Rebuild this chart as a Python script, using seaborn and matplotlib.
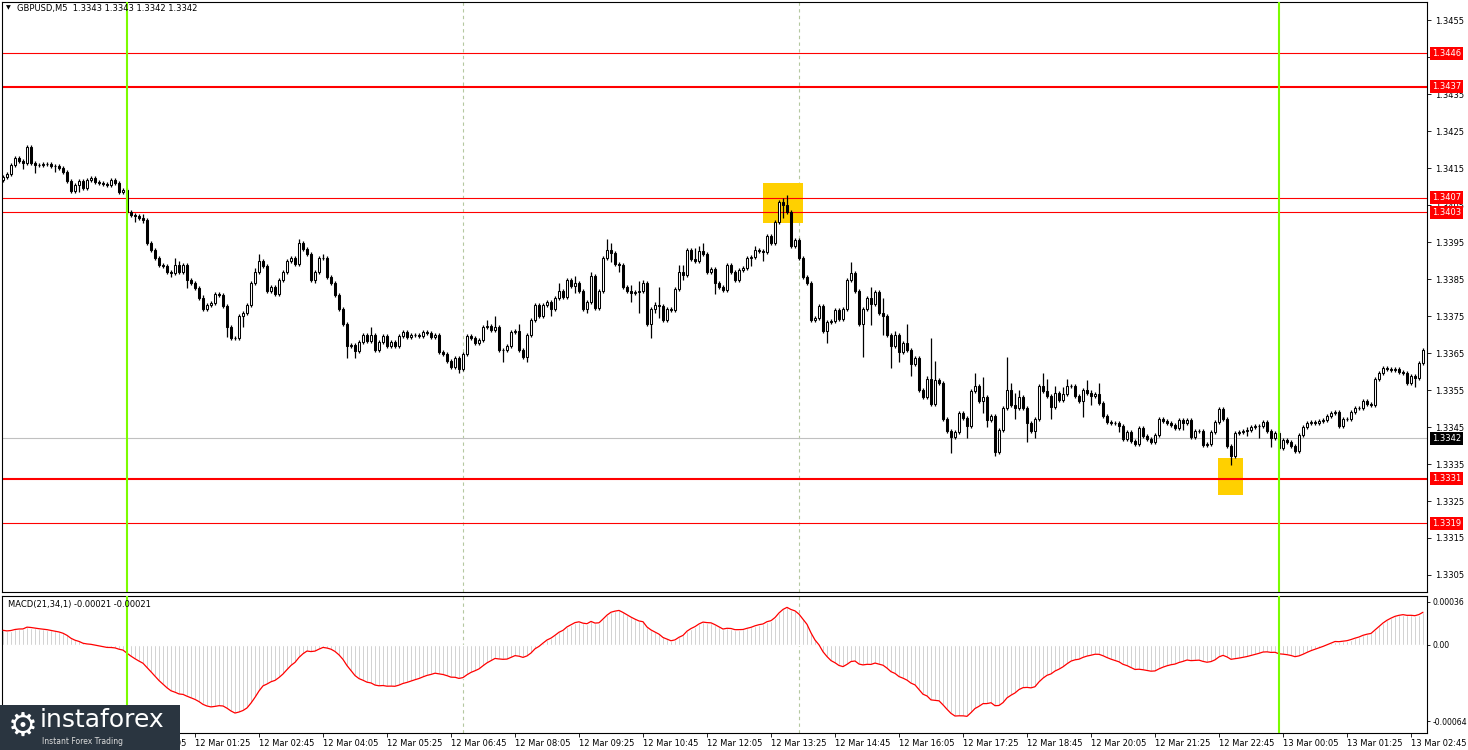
import numpy as np
import pandas as pd
import seaborn as sns
import matplotlib.pyplot as plt
import matplotlib.transforms as mtransforms
from matplotlib.patches import Rectangle

# GBPUSD M5, 11 Mar 21:25 -> 13 Mar 03:00
first_open = 1.34118
closes = [
    1.34126, 1.34134, 1.34158, 1.34177, 1.34169, 1.34163, 1.34207, 1.34163, 1.34158, 1.34158,
    1.34161, 1.34161, 1.34155, 1.34155, 1.34150, 1.34139, 1.34115, 1.34088, 1.34104, 1.34115,
    1.34096, 1.34118, 1.34123, 1.34112, 1.34109, 1.34107, 1.34104, 1.34118, 1.34109, 1.34085,
    1.34090, 1.34031, 1.34023, 1.34020, 1.34015, 1.34009, 1.33947, 1.33928, 1.33907, 1.33888,
    1.33885, 1.33869, 1.33866, 1.33888, 1.33869, 1.33888, 1.33847, 1.33839, 1.33826, 1.33799,
    1.33769, 1.33780, 1.33785, 1.33809, 1.33807, 1.33777, 1.33720, 1.33690, 1.33690, 1.33750,
    1.33758, 1.33780, 1.33839, 1.33869, 1.33899, 1.33885, 1.33817, 1.33828, 1.33809, 1.33847,
    1.33869, 1.33899, 1.33907, 1.33890, 1.33947, 1.33931, 1.33918, 1.33847, 1.33869, 1.33907,
    1.33907, 1.33855, 1.33839, 1.33807, 1.33769, 1.33728, 1.33669, 1.33672, 1.33655, 1.33680,
    1.33699, 1.33682, 1.33699, 1.33658, 1.33680, 1.33696, 1.33669, 1.33680, 1.33669, 1.33696,
    1.33707, 1.33693, 1.33699, 1.33699, 1.33696, 1.33707, 1.33704, 1.33693, 1.33699, 1.33653,
    1.33647, 1.33628, 1.33612, 1.33636, 1.33607, 1.33647, 1.33696, 1.33690, 1.33677, 1.33685,
    1.33720, 1.33723, 1.33712, 1.33720, 1.33658, 1.33658, 1.33669, 1.33707, 1.33709, 1.33658,
    1.33639, 1.33699, 1.33739, 1.33780, 1.33750, 1.33780, 1.33788, 1.33769, 1.33799, 1.33817,
    1.33801, 1.33847, 1.33831, 1.33839, 1.33817, 1.33769, 1.33788, 1.33858, 1.33772, 1.33817,
    1.33907, 1.33928, 1.33920, 1.33890, 1.33888, 1.33828, 1.33817, 1.33812, 1.33815, 1.33817,
    1.33839, 1.33728, 1.33769, 1.33780, 1.33777, 1.33739, 1.33769, 1.33766, 1.33823, 1.33869,
    1.33861, 1.33928, 1.33904, 1.33899, 1.33926, 1.33918, 1.33869, 1.33877, 1.33839, 1.33828,
    1.33820, 1.33888, 1.33869, 1.33847, 1.33874, 1.33880, 1.33907, 1.33909, 1.33928, 1.33926,
    1.33923, 1.33966, 1.33947, 1.34004, 1.34058, 1.34050, 1.34031, 1.33939, 1.33955, 1.33907,
    1.33855, 1.33839, 1.33739, 1.33744, 1.33777, 1.33709, 1.33734, 1.33736, 1.33766, 1.33742,
    1.33769, 1.33847, 1.33866, 1.33817, 1.33728, 1.33769, 1.33799, 1.33782, 1.33815, 1.33758,
    1.33750, 1.33699, 1.33669, 1.33699, 1.33653, 1.33677, 1.33658, 1.33620, 1.33636, 1.33550,
    1.33531, 1.33580, 1.33512, 1.33577, 1.33569, 1.33471, 1.33439, 1.33423, 1.33436, 1.33488,
    1.33474, 1.33453, 1.33547, 1.33561, 1.33520, 1.33531, 1.33469, 1.33480, 1.33382, 1.33442,
    1.33501, 1.33550, 1.33509, 1.33501, 1.33531, 1.33501, 1.33461, 1.33439, 1.33471, 1.33561,
    1.33547, 1.33534, 1.33504, 1.33542, 1.33523, 1.33539, 1.33561, 1.33561, 1.33534, 1.33520,
    1.33550, 1.33542, 1.33534, 1.33539, 1.33515, 1.33480, 1.33463, 1.33461, 1.33461, 1.33453,
    1.33417, 1.33436, 1.33412, 1.33404, 1.33447, 1.33426, 1.33417, 1.33409, 1.33428, 1.33471,
    1.33466, 1.33461, 1.33455, 1.33447, 1.33469, 1.33461, 1.33469, 1.33423, 1.33439, 1.33439,
    1.33401, 1.33404, 1.33436, 1.33463, 1.33498, 1.33471, 1.33398, 1.33371, 1.33434, 1.33436,
    1.33439, 1.33442, 1.33450, 1.33453, 1.33453, 1.33463, 1.33439, 1.33420, 1.33434, 1.33393,
    1.33415, 1.33409, 1.33398, 1.33385, 1.33428, 1.33450, 1.33461, 1.33463, 1.33461, 1.33466,
    1.33469, 1.33480, 1.33488, 1.33490, 1.33453, 1.33471, 1.33471, 1.33490, 1.33501, 1.33501,
    1.33520, 1.33512, 1.33509, 1.33580, 1.33596, 1.33609, 1.33607, 1.33604, 1.33607, 1.33598,
    1.33596, 1.33569, 1.33588, 1.33582, 1.33623, 1.33658,
]
# wick lengths above / below the body, in pips
upper_wick = [
    0.5, 0.5, 0.5, 0.5, 0.5, 0.5, 0.5, 0.5, 0.5, 0.5,
    0.5, 0.5, 0.5, 0.5, 0.5, 0.5, 0.5, 0.5, 0.5, 0.5,
    0.5, 0.5, 0.5, 0.5, 0.5, 0.5, 0.5, 0.5, 0.5, 0.5,
    0.5, 0.5, 0.5, 0.5, 0.5, 1.1, 0.5, 0.5, 0.5, 0.5,
    0.5, 0.5, 0.5, 1.9, 1.1, 0.5, 0.5, 0.5, 0.5, 0.5,
    0.8, 0.5, 0.5, 0.5, 0.5, 0.5, 0.5, 0.5, 0.5, 0.5,
    0.5, 0.5, 0.5, 1.1, 1.9, 0.5, 0.5, 0.5, 0.5, 0.5,
    0.5, 0.5, 0.5, 0.5, 1.1, 0.5, 0.5, 0.5, 0.5, 0.5,
    1.1, 0.5, 0.5, 0.5, 0.5, 0.5, 0.5, 0.5, 0.5, 0.5,
    0.5, 0.5, 2.2, 0.5, 0.5, 0.5, 0.5, 0.5, 0.5, 0.5,
    0.5, 0.5, 0.5, 0.5, 0.5, 0.5, 0.5, 0.5, 0.5, 0.5,
    0.5, 0.5, 0.5, 0.5, 0.5, 0.5, 0.5, 0.5, 0.5, 0.5,
    0.5, 1.6, 0.5, 3.0, 0.5, 0.5, 0.5, 0.5, 0.5, 1.9,
    0.5, 0.5, 0.5, 0.5, 0.5, 0.5, 0.5, 0.5, 0.5, 2.2,
    0.5, 0.5, 0.5, 1.9, 0.5, 0.5, 0.5, 1.1, 0.5, 0.5,
    0.5, 3.0, 1.9, 0.5, 0.5, 0.5, 0.5, 1.6, 0.5, 2.7,
    0.8, 0.5, 0.5, 0.8, 4.9, 0.5, 0.5, 0.5, 0.5, 1.9,
    1.9, 0.5, 0.5, 3.0, 1.4, 2.2, 0.5, 0.5, 0.5, 0.5,
    0.5, 0.5, 0.5, 0.5, 0.5, 0.5, 0.5, 0.5, 1.1, 0.5,
    0.5, 0.5, 0.5, 0.5, 0.5, 1.1, 2.7, 0.5, 0.5, 0.5,
    0.5, 0.5, 0.5, 0.5, 0.5, 0.5, 0.5, 0.5, 0.5, 0.5,
    0.5, 0.5, 3.0, 0.5, 0.5, 0.5, 0.5, 3.0, 0.5, 0.5,
    4.1, 0.5, 0.5, 1.1, 0.5, 0.5, 5.1, 0.5, 0.5, 0.5,
    0.5, 0.8, 11.1, 5.1, 0.5, 0.5, 0.5, 0.5, 0.5, 0.5,
    0.5, 0.5, 0.5, 3.5, 0.5, 5.4, 0.5, 0.5, 0.5, 0.5,
    0.5, 8.9, 1.9, 3.2, 1.9, 0.5, 0.5, 0.5, 0.5, 0.5,
    3.5, 3.2, 0.5, 1.9, 0.5, 1.9, 1.9, 0.5, 0.5, 0.5,
    0.5, 2.7, 0.8, 0.5, 3.0, 0.5, 0.5, 0.5, 0.5, 0.5,
    0.5, 0.5, 0.5, 0.5, 0.5, 0.5, 0.5, 0.5, 0.5, 0.5,
    0.5, 0.5, 0.5, 0.5, 0.5, 0.5, 0.5, 0.5, 0.5, 0.5,
    0.5, 0.5, 0.5, 0.5, 0.5, 0.5, 0.5, 0.5, 0.5, 0.5,
    0.5, 0.8, 0.5, 0.5, 0.5, 0.5, 0.5, 0.5, 0.5, 0.5,
    0.5, 0.5, 0.5, 0.5, 0.5, 0.5, 0.5, 0.5, 0.5, 0.5,
    0.5, 0.5, 0.5, 0.5, 0.5, 0.5, 0.5, 0.5, 0.5, 0.5,
    0.5, 0.5, 0.5, 0.5, 0.5, 0.5, 0.5, 0.5, 0.5, 0.5,
    0.5, 0.5, 0.5, 0.5, 0.5, 0.5,
]
lower_wick = [
    0.5, 0.5, 0.5, 0.5, 0.5, 1.6, 0.5, 0.5, 2.2, 0.5,
    0.5, 0.5, 0.5, 1.6, 0.5, 0.5, 0.5, 0.5, 0.5, 1.9,
    0.5, 0.5, 0.5, 0.5, 0.5, 0.5, 0.5, 0.5, 0.5, 0.5,
    0.5, 0.5, 0.5, 1.6, 0.5, 0.8, 0.5, 0.5, 0.5, 0.5,
    0.5, 0.5, 1.1, 0.5, 0.5, 0.5, 2.2, 0.5, 0.5, 0.5,
    0.5, 0.5, 0.5, 0.5, 0.5, 0.5, 2.7, 0.5, 0.5, 0.5,
    3.0, 0.5, 0.5, 0.5, 0.5, 0.5, 0.5, 0.5, 0.5, 0.5,
    0.5, 0.5, 0.5, 0.5, 0.5, 0.5, 0.5, 0.5, 0.8, 0.5,
    0.5, 0.5, 0.5, 0.5, 0.5, 0.5, 3.2, 0.5, 1.9, 0.5,
    0.5, 0.5, 0.5, 0.5, 0.5, 0.5, 0.5, 0.5, 0.5, 0.5,
    0.5, 0.5, 0.5, 0.5, 0.5, 0.5, 0.5, 0.5, 0.5, 0.5,
    0.5, 0.5, 0.5, 0.5, 1.1, 0.5, 0.5, 0.5, 0.5, 0.5,
    0.5, 0.5, 0.5, 0.5, 0.5, 3.2, 0.5, 0.5, 0.5, 0.5,
    0.5, 1.4, 0.5, 0.5, 0.5, 0.5, 0.5, 1.9, 0.5, 0.5,
    0.5, 0.5, 0.5, 1.9, 0.5, 0.5, 1.1, 0.5, 0.5, 0.5,
    0.5, 0.5, 2.4, 0.5, 1.9, 0.5, 0.5, 2.4, 0.5, 5.7,
    0.5, 0.5, 3.8, 1.1, 3.2, 0.5, 0.5, 0.5, 0.5, 0.5,
    1.4, 0.5, 0.5, 0.5, 0.5, 0.5, 0.5, 0.5, 3.0, 0.5,
    0.5, 0.5, 0.5, 0.5, 0.5, 0.5, 0.5, 2.2, 0.5, 0.5,
    2.4, 0.5, 0.5, 0.5, 0.5, 3.5, 0.5, 0.5, 0.5, 0.5,
    0.5, 0.5, 0.5, 0.5, 0.5, 0.5, 3.2, 0.5, 0.5, 0.5,
    0.5, 0.5, 0.5, 0.5, 0.5, 9.0, 0.5, 5.7, 0.5, 0.5,
    5.1, 0.5, 5.9, 0.5, 2.7, 0.5, 0.5, 3.2, 0.5, 0.5,
    0.5, 0.5, 0.5, 0.5, 0.5, 0.5, 0.5, 4.3, 0.5, 0.5,
    0.5, 3.2, 0.5, 0.5, 0.5, 3.2, 1.9, 0.5, 1.1, 0.5,
    0.5, 0.5, 0.5, 3.0, 0.5, 0.5, 5.1, 0.5, 1.9, 0.5,
    0.5, 0.5, 3.2, 0.5, 0.5, 0.5, 0.5, 0.5, 0.5, 0.5,
    4.3, 0.5, 2.4, 0.5, 0.5, 0.5, 0.5, 0.5, 0.5, 1.6,
    0.5, 0.5, 0.5, 0.5, 0.5, 0.5, 0.5, 0.5, 0.5, 0.5,
    0.5, 0.5, 0.5, 0.5, 0.5, 1.9, 0.5, 0.5, 0.5, 0.5,
    0.5, 0.5, 0.5, 0.5, 0.5, 0.5, 0.5, 2.4, 0.5, 0.5,
    0.5, 1.4, 0.5, 0.5, 3.2, 0.5, 0.5, 2.4, 0.5, 0.5,
    0.5, 0.5, 0.5, 0.5, 0.5, 0.5, 0.5, 0.5, 0.5, 0.5,
    0.5, 0.5, 0.5, 0.5, 0.5, 0.5, 0.5, 0.5, 0.5, 0.5,
    0.5, 0.5, 0.5, 0.5, 0.5, 0.5, 0.5, 0.5, 0.5, 0.5,
    0.5, 0.5, 0.5, 2.4, 0.5, 0.5,
]

# EMA state just before the first visible bar (MACD already ~ +0.00013 there)
macd_seed_fast = 1.34128
macd_seed_slow = 1.34115
macd_fast, macd_slow = 21, 34

level_prices = [1.3446, 1.3437, 1.3407, 1.3403, 1.3331, 1.3319]
level_thick = [False, True, False, False, True, False]
bid_price = 1.3342
# (first bar, last bar, low, high) of the two yellow signal boxes
signal_boxes = [(190, 200, 1.34001, 1.34109), (303.75, 310, 1.33266, 1.33366)]
day_breaks = [31, 319]
grid_breaks = [115, 199]

time_labels = ["12 Mar 00:05", "12 Mar 01:25", "12 Mar 02:45",
               "12 Mar 04:05", "12 Mar 05:25", "12 Mar 06:45", "12 Mar 08:05", "12 Mar 09:25",
               "12 Mar 10:45", "12 Mar 12:05", "12 Mar 13:25", "12 Mar 14:45", "12 Mar 16:05",
               "12 Mar 17:25", "12 Mar 18:45", "12 Mar 20:05", "12 Mar 21:25", "12 Mar 22:45",
               "13 Mar 00:05", "13 Mar 01:25", "13 Mar 02:45"]
time_label_bars = list(range(32, 353, 16))
price_ticks = [1.3305, 1.3315, 1.3325, 1.3335, 1.3345, 1.3355, 1.3365, 1.3375, 1.3385,
               1.3395, 1.3405, 1.3415, 1.3425, 1.3435, 1.3445, 1.3455]
# 1.3445 sits under the 1.3446 level tag, so its label is not shown
price_tick_labels = ["1.3305", "1.3315", "1.3325", "1.3335", "1.3345", "1.3355", "1.3365",
                     "1.3375", "1.3385", "1.3395", "1.3405", "1.3415", "1.3425", "1.3435",
                     "", "1.3455"]
macd_ticks = [0.00036, 0.0, -0.00064]
macd_tick_labels = ["0.00036", "0.00", "-0.00064"]
header = "GBPUSD,M5  1.3343 1.3343 1.3342 1.3342"
macd_title = "MACD(21,34,1) -0.00021 -0.00021"

# ---- build the frame ----
df = pd.DataFrame({"close": closes, "up": upper_wick, "dn": lower_wick})
df["open"] = df["close"].shift(1).fillna(first_open)
df["high"] = df[["open", "close"]].max(axis=1) + df["up"] * 1e-4
df["low"] = df[["open", "close"]].min(axis=1) - df["dn"] * 1e-4

ef, es = macd_seed_fast, macd_seed_slow
af, as_ = 2 / (macd_fast + 1), 2 / (macd_slow + 1)
macd = []
for c in df["close"]:
    ef += af * (c - ef)
    es += as_ * (c - es)
    macd.append(ef - es)
df["macd"] = macd
idx = np.arange(len(df))

# ---- figure ----
sns.set_theme(style="white")
plt.rcParams["font.family"] = ["DejaVu Sans"]
W, H = 1468, 750
fig = plt.figure(figsize=(W / 100, H / 100), dpi=100)
fig.patch.set_facecolor("white")
ax = fig.add_axes([2 / W, 1 - 592 / H, 1425 / W, 590 / H])
axm = fig.add_axes([2 / W, 1 - 733 / H, 1425 / W, 137 / H])

for a in (ax, axm):
    a.set_xlim(-0.25, 356.0)
    a.set_facecolor("white")
    for s in a.spines.values():
        s.set_color("black")
        s.set_linewidth(0.8)
    for d in day_breaks:
        a.axvline(d, color="#7CFC00", lw=1.5, zorder=5)
    for g in grid_breaks:
        a.axvline(g, color="#B5C8A0", lw=0.8, ls=(0, (3, 3)), zorder=1)

# price panel
ax.set_ylim(1.33004, 1.34599)
for x0, x1, lo, hi in signal_boxes:
    ax.add_patch(Rectangle((x0, lo), x1 - x0, hi - lo, fc="#FFD000", ec="none", zorder=1.5))

tr = mtransforms.blended_transform_factory(ax.transAxes, ax.transData)
for lvl, thick in zip(level_prices, level_thick):
    ax.axhline(lvl, color="red", lw=1.5 if thick else 0.8, zorder=2)
ax.axhline(bid_price, color="#C0C0C0", lw=0.8, zorder=1.8)

bull = df["close"] >= df["open"]
ax.vlines(idx, df["low"], df["high"], color="black", lw=0.9, zorder=3)
body_lo = df[["open", "close"]].min(axis=1)
body_h = (df["close"] - df["open"]).abs().clip(lower=0.000008)
ax.bar(idx, body_h, bottom=body_lo, width=0.6,
       color=np.where(bull, "white", "black"), edgecolor="black", linewidth=0.75, zorder=4)

ax.yaxis.tick_right()
ax.set_yticks(price_ticks)
ax.set_yticklabels(price_tick_labels)
ax.tick_params(axis="y", right=True, left=False, length=3, width=0.6, colors="black",
               labelsize=6, pad=3)
ax.tick_params(axis="x", bottom=False, labelbottom=False)

for lvl in level_prices:
    ax.text(1.0035, lvl, f"{lvl:.4f}", transform=tr, color="white", fontsize=6,
            va="center", ha="left", clip_on=False, zorder=10,
            bbox=dict(boxstyle="square,pad=0.25", fc="red", ec="none"))
ax.text(1.0035, bid_price, f"{bid_price:.4f}", transform=tr, color="white", fontsize=6,
        va="center", ha="left", clip_on=False, zorder=10,
        bbox=dict(boxstyle="square,pad=0.25", fc="black", ec="none"))

# MACD panel
axm.set_ylim(-0.00074, 0.00041)
axm.bar(idx, df["macd"], width=0.55, color="#B8B8B8", zorder=2)
sns.lineplot(x=idx, y=df["macd"].values, ax=axm, color="red", lw=0.9, zorder=3)
axm.set_xlabel("")
axm.set_ylabel("")
axm.yaxis.tick_right()
axm.set_yticks(macd_ticks)
axm.set_yticklabels(macd_tick_labels)
axm.tick_params(axis="y", right=True, left=False, length=2, width=0.6, colors="black",
                labelsize=5.6, pad=2)
axm.set_xticks(time_label_bars)
axm.set_xticklabels(time_labels)
axm.tick_params(axis="x", bottom=True, length=3, width=0.6, colors="black", labelsize=6, pad=1)
for t in axm.get_xticklabels():
    t.set_ha("left")

fig.text(6 / W, 1 - 8 / H, "\u25bc", fontsize=4.5, va="center", ha="left", color="black")
fig.text(17 / W, 1 - 8 / H, header, fontsize=6, va="center", ha="left", color="black")
fig.text(8 / W, 1 - 604 / H, macd_title, fontsize=6, va="center", ha="left", color="black")

# watermark
fig.add_artist(Rectangle((0, 0), 180 / W, 45 / H, transform=fig.transFigure,
                         fc="#2a3540", ec="none", zorder=20))
fig.text(23 / W, 1 - 726 / H, "\u2699", fontsize=24, color="white", va="center", ha="center", zorder=21)
fig.text(40 / W, 1 - 720 / H, "instaforex", fontsize=18, color="white", va="center", ha="left", zorder=21)
fig.text(42 / W, 1 - 741 / H, "Instant Forex Trading", fontsize=5.5, color="#dddddd", va="center",
         ha="left", zorder=21)

fig.savefig("out.png", dpi=100, facecolor="white")
